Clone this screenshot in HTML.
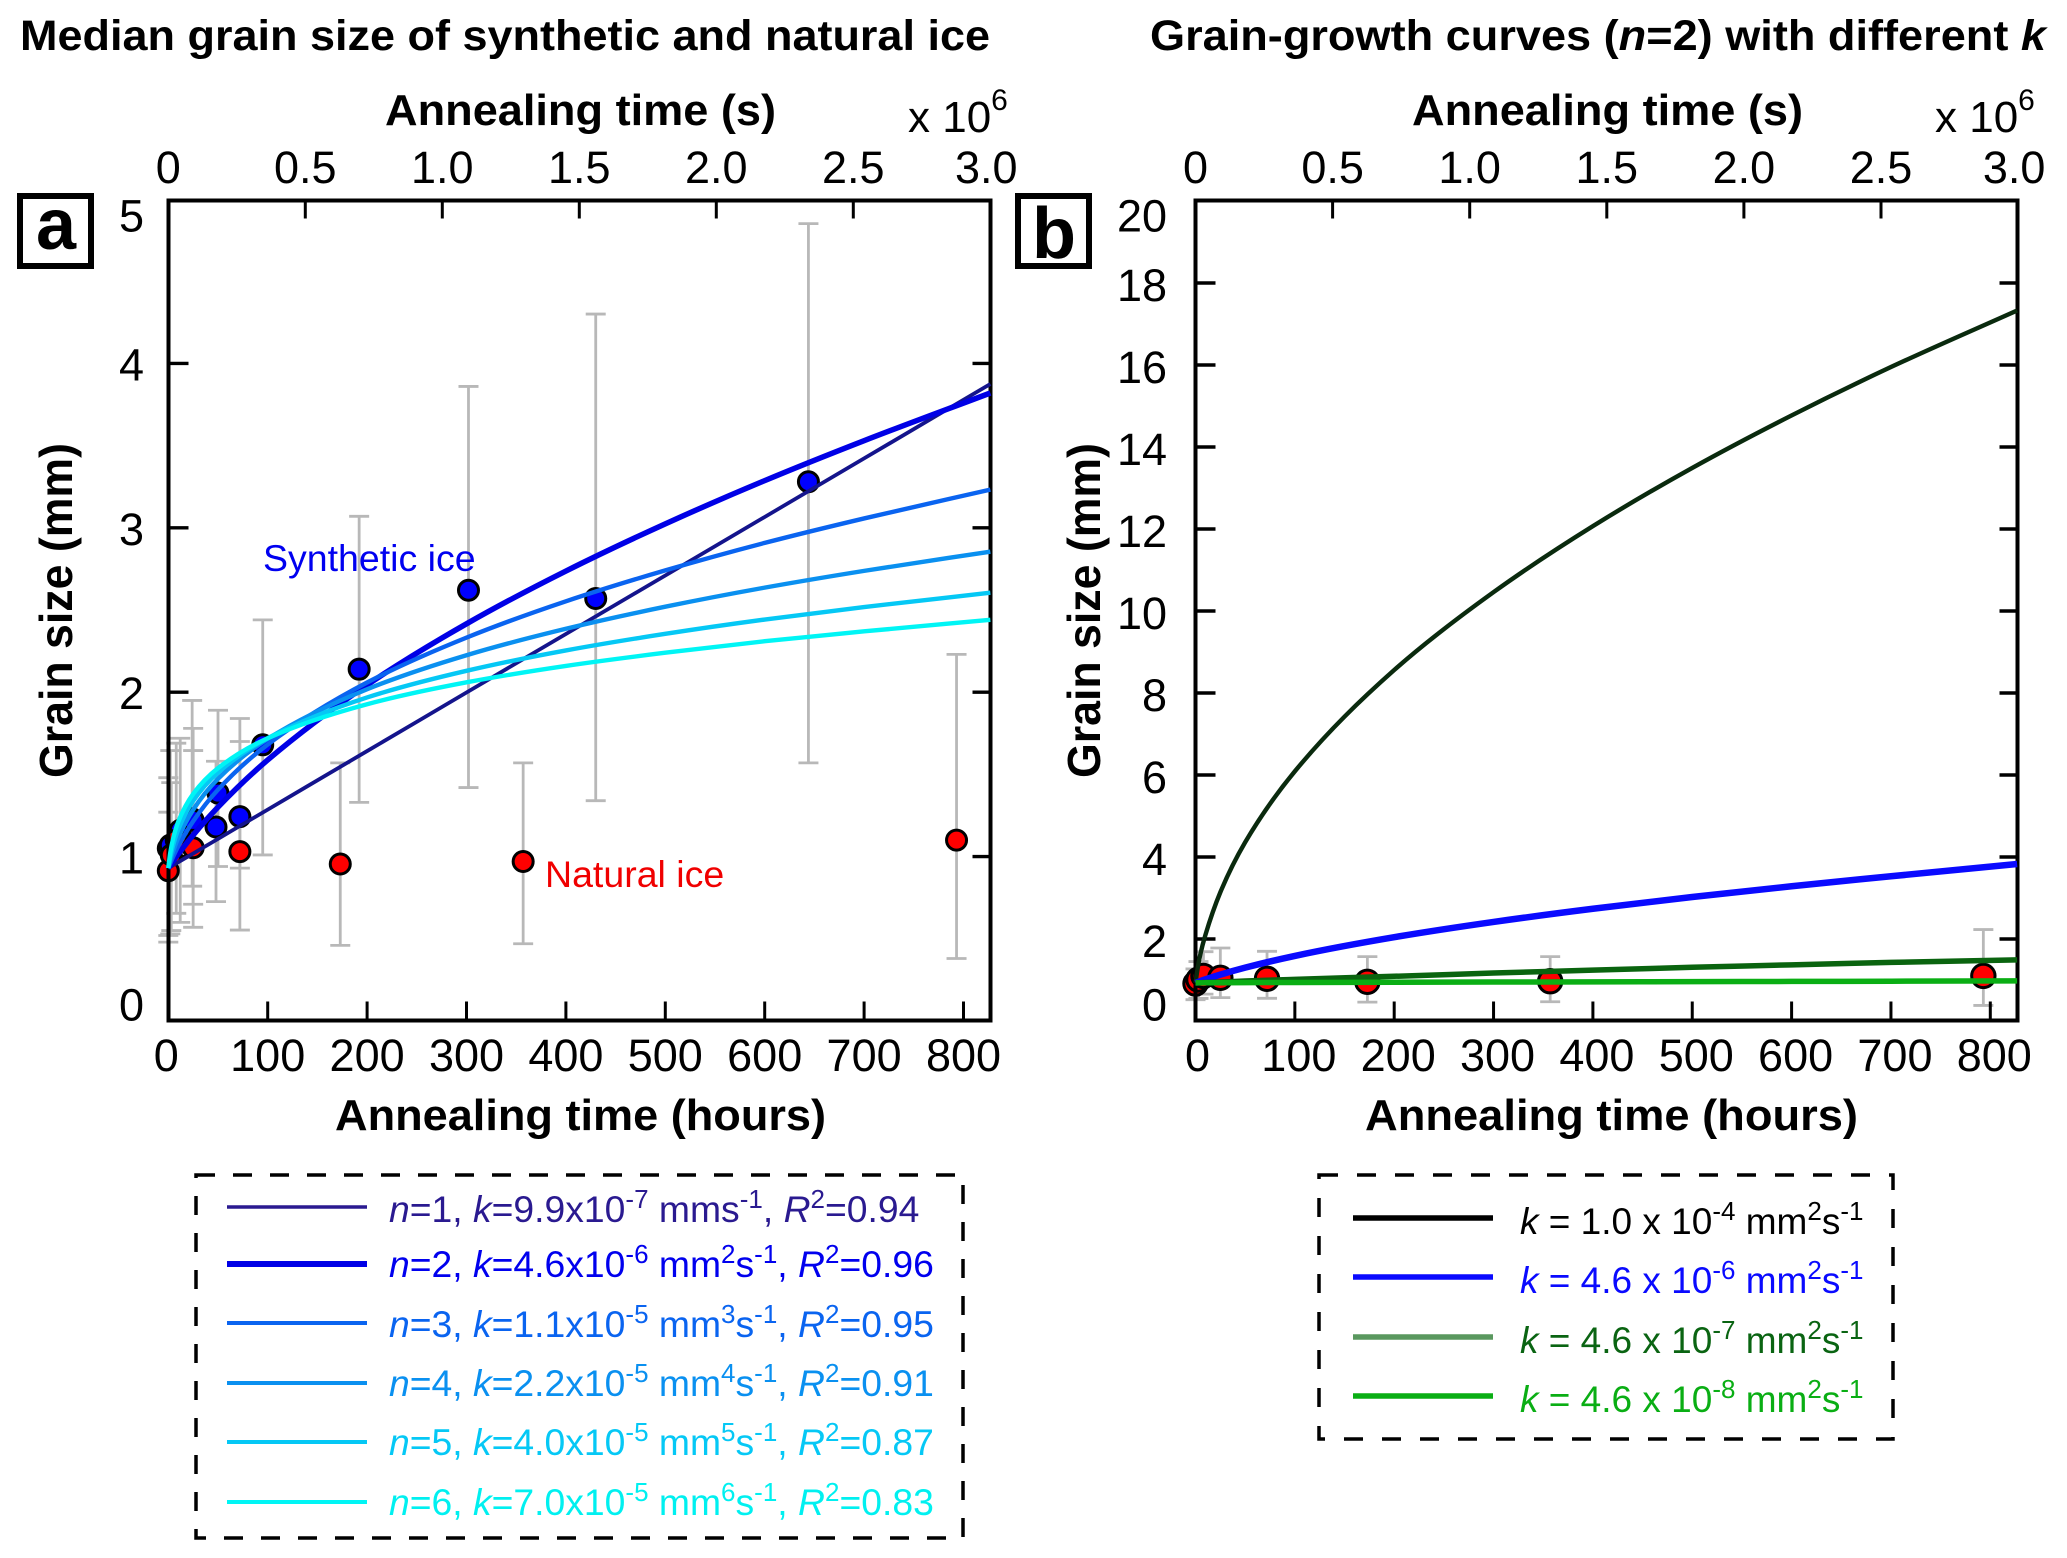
<!DOCTYPE html>
<html lang="en">
<head>
<meta charset="utf-8">
<title>Median grain size of synthetic and natural ice</title>
<style>
html,body{margin:0;padding:0;background:#fff;}
svg{display:block;}
text{font-family:"Liberation Sans",sans-serif;}
.tick{font-size:45px;fill:#000;}
.bold{font-weight:bold;fill:#000;}
.leg{font-size:37.3px;}
.legb{font-size:37px;}
.it{font-style:italic;}
.sup{font-size:26px;}
</style>
</head>
<body>
<svg id="figure" width="2067" height="1558" viewBox="0 0 2067 1558" xmlns="http://www.w3.org/2000/svg">
  <rect x="0" y="0" width="2067" height="1558" fill="#fff"/>

  <text class="bold" x="20" y="50" font-size="43" textLength="970" lengthAdjust="spacingAndGlyphs">Median grain size of synthetic and natural ice</text>
  <text class="bold" x="1150" y="50" font-size="43" textLength="896" lengthAdjust="spacingAndGlyphs">Grain-growth curves (<tspan class="it">n</tspan>=2) with different <tspan class="it">k</tspan></text>

  <text class="bold" x="385" y="125" font-size="44" textLength="391" lengthAdjust="spacingAndGlyphs">Annealing time (s)</text>
  <text class="bold" x="1412" y="125" font-size="44" textLength="391" lengthAdjust="spacingAndGlyphs">Annealing time (s)</text>

  <text x="908" y="132" font-size="44">x 10<tspan dy="-22" font-size="30">6</tspan></text>
  <text x="1935" y="132" font-size="44">x 10<tspan dy="-22" font-size="30">6</tspan></text>

  <text class="bold" x="335" y="1130" font-size="44" textLength="491" lengthAdjust="spacingAndGlyphs">Annealing time (hours)</text>
  <text class="bold" x="1365" y="1130" font-size="44" textLength="493" lengthAdjust="spacingAndGlyphs">Annealing time (hours)</text>

  <text class="bold" transform="translate(72,778) rotate(-90)" font-size="46" textLength="335" lengthAdjust="spacingAndGlyphs">Grain size (mm)</text>
  <text class="bold" transform="translate(1100,778) rotate(-90)" font-size="46" textLength="335" lengthAdjust="spacingAndGlyphs">Grain size (mm)</text>

  <g id="panelA"></g>
  <g id="panelB"></g>

  <text x="263" y="571" font-size="37.5" fill="#0000f0">Synthetic ice</text>
  <text x="545" y="887" font-size="37.5" fill="#f00000">Natural ice</text>

  <g>
    <rect x="20" y="196" width="71" height="70" fill="#fff" stroke="#000" stroke-width="6"/>
    <text x="56" y="249" font-size="72" font-weight="bold" text-anchor="middle">a</text>
  </g>
  <g>
    <rect x="1018" y="196" width="71" height="70" fill="#fff" stroke="#000" stroke-width="6"/>
    <text x="1054" y="258" font-size="72" font-weight="bold" text-anchor="middle">b</text>
  </g>

  <g>
    <rect x="196" y="1175" width="767" height="363" fill="none" stroke="#000" stroke-width="3.5" stroke-dasharray="19 18"/>
    <g>
      <line x1="227" x2="367" y1="1207" y2="1207" stroke="#2a1a90" stroke-width="3.5"/>
      <text class="leg" x="389" y="1222" fill="#2a1a90"><tspan class="it">n</tspan>=1, <tspan class="it">k</tspan>=9.9x10<tspan dy="-14" class="sup">-7</tspan><tspan dy="14"> mms</tspan><tspan dy="-14" class="sup">-1</tspan><tspan dy="14">, </tspan><tspan class="it">R</tspan><tspan dy="-14" class="sup">2</tspan><tspan dy="14">=0.94</tspan></text>
    </g>
    <g>
      <line x1="227" x2="367" y1="1264" y2="1264" stroke="#0000e6" stroke-width="6"/>
      <text class="leg" x="389" y="1277" fill="#0000ee"><tspan class="it">n</tspan>=2, <tspan class="it">k</tspan>=4.6x10<tspan dy="-14" class="sup">-6</tspan><tspan dy="14"> mm</tspan><tspan dy="-14" class="sup">2</tspan><tspan dy="14">s</tspan><tspan dy="-14" class="sup">-1</tspan><tspan dy="14">, </tspan><tspan class="it">R</tspan><tspan dy="-14" class="sup">2</tspan><tspan dy="14">=0.96</tspan></text>
    </g>
    <g>
      <line x1="227" x2="367" y1="1323" y2="1323" stroke="#0a64f0" stroke-width="4"/>
      <text class="leg" x="389" y="1337" fill="#0a64f0"><tspan class="it">n</tspan>=3, <tspan class="it">k</tspan>=1.1x10<tspan dy="-14" class="sup">-5</tspan><tspan dy="14"> mm</tspan><tspan dy="-14" class="sup">3</tspan><tspan dy="14">s</tspan><tspan dy="-14" class="sup">-1</tspan><tspan dy="14">, </tspan><tspan class="it">R</tspan><tspan dy="-14" class="sup">2</tspan><tspan dy="14">=0.95</tspan></text>
    </g>
    <g>
      <line x1="227" x2="367" y1="1383" y2="1383" stroke="#0a90f0" stroke-width="4"/>
      <text class="leg" x="389" y="1396" fill="#0a90f0"><tspan class="it">n</tspan>=4, <tspan class="it">k</tspan>=2.2x10<tspan dy="-14" class="sup">-5</tspan><tspan dy="14"> mm</tspan><tspan dy="-14" class="sup">4</tspan><tspan dy="14">s</tspan><tspan dy="-14" class="sup">-1</tspan><tspan dy="14">, </tspan><tspan class="it">R</tspan><tspan dy="-14" class="sup">2</tspan><tspan dy="14">=0.91</tspan></text>
    </g>
    <g>
      <line x1="227" x2="367" y1="1442" y2="1442" stroke="#05c8f5" stroke-width="4"/>
      <text class="leg" x="389" y="1455" fill="#05c8f5"><tspan class="it">n</tspan>=5, <tspan class="it">k</tspan>=4.0x10<tspan dy="-14" class="sup">-5</tspan><tspan dy="14"> mm</tspan><tspan dy="-14" class="sup">5</tspan><tspan dy="14">s</tspan><tspan dy="-14" class="sup">-1</tspan><tspan dy="14">, </tspan><tspan class="it">R</tspan><tspan dy="-14" class="sup">2</tspan><tspan dy="14">=0.87</tspan></text>
    </g>
    <g>
      <line x1="227" x2="367" y1="1502" y2="1502" stroke="#00f5f5" stroke-width="4"/>
      <text class="leg" x="389" y="1515" fill="#00f0f0"><tspan class="it">n</tspan>=6, <tspan class="it">k</tspan>=7.0x10<tspan dy="-14" class="sup">-5</tspan><tspan dy="14"> mm</tspan><tspan dy="-14" class="sup">6</tspan><tspan dy="14">s</tspan><tspan dy="-14" class="sup">-1</tspan><tspan dy="14">, </tspan><tspan class="it">R</tspan><tspan dy="-14" class="sup">2</tspan><tspan dy="14">=0.83</tspan></text>
    </g>
  </g>

  <g>
    <rect x="1319" y="1175" width="574" height="264" fill="none" stroke="#000" stroke-width="3.5" stroke-dasharray="19 19"/>
    <g>
      <line x1="1353" x2="1493" y1="1218" y2="1218" stroke="#000" stroke-width="5.5"/>
      <text class="legb" x="1520" y="1234" fill="#000"><tspan class="it">k</tspan> = 1.0 x 10<tspan dy="-14" class="sup">-4</tspan><tspan dy="14"> mm</tspan><tspan dy="-14" class="sup">2</tspan><tspan dy="14">s</tspan><tspan dy="-14" class="sup">-1</tspan></text>
    </g>
    <g>
      <line x1="1353" x2="1493" y1="1277" y2="1277" stroke="#0a0aff" stroke-width="5.5"/>
      <text class="legb" x="1520" y="1293" fill="#0a0aff"><tspan class="it">k</tspan> = 4.6 x 10<tspan dy="-14" class="sup">-6</tspan><tspan dy="14"> mm</tspan><tspan dy="-14" class="sup">2</tspan><tspan dy="14">s</tspan><tspan dy="-14" class="sup">-1</tspan></text>
    </g>
    <g>
      <line x1="1353" x2="1493" y1="1337" y2="1337" stroke="#5a985f" stroke-width="5.5"/>
      <text class="legb" x="1520" y="1353" fill="#0a6412"><tspan class="it">k</tspan> = 4.6 x 10<tspan dy="-14" class="sup">-7</tspan><tspan dy="14"> mm</tspan><tspan dy="-14" class="sup">2</tspan><tspan dy="14">s</tspan><tspan dy="-14" class="sup">-1</tspan></text>
    </g>
    <g>
      <line x1="1353" x2="1493" y1="1396" y2="1396" stroke="#0aae14" stroke-width="5.5"/>
      <text class="legb" x="1520" y="1412" fill="#0aae14"><tspan class="it">k</tspan> = 4.6 x 10<tspan dy="-14" class="sup">-8</tspan><tspan dy="14"> mm</tspan><tspan dy="-14" class="sup">2</tspan><tspan dy="14">s</tspan><tspan dy="-14" class="sup">-1</tspan></text>
    </g>
  </g>
</svg>

<script>
// ---- shared axis labels ----
const hourTicks = [0, 100, 200, 300, 400, 500, 600, 700, 800];
const secondTicks = [0, 0.5, 1.0, 1.5, 2.0, 2.5, 3.0];
const secondLabels = ['0', '0.5', '1.0', '1.5', '2.0', '2.5', '3.0'];
const sizeTicksA = [0, 1, 2, 3, 4, 5];
const sizeTicksB = [0, 2, 4, 6, 8, 10, 12, 14, 16, 18, 20];

// ---- fitted curve sample hours ----
const curveHours = [0, 2, 5, 10, 25, 50, 100, 200, 300, 400, 500, 600, 700, 827];

// ---- panel a curves (grain size, mm) ----
const curveN1 = [0.93, 0.937, 0.948, 0.966, 1.019, 1.108, 1.286, 1.642, 1.998, 2.354, 2.71, 3.066, 3.422, 3.875];
const curveN2 = [0.93, 0.948, 0.974, 1.015, 1.131, 1.301, 1.588, 2.044, 2.416, 2.737, 3.024, 3.287, 3.53, 3.82];
const curveN3 = [0.93, 0.959, 1.001, 1.063, 1.215, 1.407, 1.682, 2.059, 2.332, 2.553, 2.741, 2.908, 3.057, 3.232];
const curveN4 = [0.93, 0.976, 1.034, 1.114, 1.285, 1.473, 1.716, 2.018, 2.225, 2.386, 2.52, 2.636, 2.738, 2.855];
const curveN5 = [0.93, 0.997, 1.072, 1.164, 1.339, 1.511, 1.72, 1.968, 2.13, 2.254, 2.355, 2.442, 2.518, 2.605];
const curveN6 = [0.93, 1.024, 1.113, 1.212, 1.381, 1.538, 1.72, 1.927, 2.06, 2.16, 2.24, 2.31, 2.37, 2.44];

// ---- panel b curves (grain size, mm) ----
const curveK4 = [0.93, 1.26, 1.64, 2.10, 3.14, 4.36, 6.09, 8.56, 10.46, 12.07, 13.49, 14.77, 15.95, 17.33];
const curveK6 = [0.93, 0.948, 0.974, 1.015, 1.131, 1.301, 1.588, 2.044, 2.416, 2.737, 3.024, 3.287, 3.53, 3.83];
const curveK7 = [0.93, 0.932, 0.934, 0.94, 0.95, 0.975, 1.016, 1.09, 1.17, 1.24, 1.31, 1.37, 1.43, 1.49];
const curveK8 = [0.93, 0.93, 0.93, 0.932, 0.933, 0.935, 0.94, 0.945, 0.95, 0.955, 0.96, 0.965, 0.97, 0.98];

// ---- synthetic ice measurements ----
const synthHours = [0, 2, 12, 24, 25, 48, 50, 72, 95, 192, 302, 430, 644];
const synthSize = [1.05, 1.07, 1.16, 1.23, 1.22, 1.18, 1.386, 1.243, 1.68, 2.14, 2.62, 2.57, 3.28];
const synthLow = [0.48, 0.53, 0.60, 0.82, 0.71, 0.726, 0.94, 0.93, 1.01, 1.33, 1.42, 1.34, 1.57];
const synthHigh = [1.48, 1.645, 1.72, 1.95, 1.645, 1.58, 1.89, 1.84, 2.44, 3.07, 3.86, 4.30, 4.85];

// ---- natural ice measurements ----
const naturalHours = [0, 3, 8, 25, 72, 173, 357, 793];
const naturalSize = [0.914, 1.01, 1.10, 1.054, 1.03, 0.955, 0.97, 1.10];
const naturalLow = [0.52, 0.55, 0.655, 0.57, 0.553, 0.46, 0.47, 0.38];
const naturalHigh = [1.27, 1.45, 1.69, 1.78, 1.70, 1.57, 1.57, 2.23];

const NS = 'http://www.w3.org/2000/svg';

function mk(parent, tag, attrs, txt) {
  const el = document.createElementNS(NS, tag);
  for (const k in attrs) el.setAttribute(k, attrs[k]);
  if (txt !== undefined) el.textContent = txt;
  parent.appendChild(el);
  return el;
}

function smoothPath(px, py) {
  const n = px.length, d = [], m = new Array(n);
  for (let i = 0; i < n - 1; i++) d.push((py[i + 1] - py[i]) / (px[i + 1] - px[i]));
  m[0] = d[0];
  m[n - 1] = d[n - 2];
  for (let i = 1; i < n - 1; i++) {
    if (d[i - 1] * d[i] <= 0) { m[i] = 0; continue; }
    const h0 = px[i] - px[i - 1], h1 = px[i + 1] - px[i];
    m[i] = (h0 + h1) * 3 / ((2 * h1 + h0) / d[i - 1] + (h1 + 2 * h0) / d[i]);
  }
  let s = 'M' + px[0].toFixed(2) + ' ' + py[0].toFixed(2);
  for (let i = 0; i < n - 1; i++) {
    const h = (px[i + 1] - px[i]) / 3;
    s += ' C' + (px[i] + h).toFixed(2) + ' ' + (py[i] + m[i] * h).toFixed(2) + ' ' +
      (px[i + 1] - h).toFixed(2) + ' ' + (py[i + 1] - m[i + 1] * h).toFixed(2) + ' ' +
      px[i + 1].toFixed(2) + ' ' + py[i + 1].toFixed(2);
  }
  return s;
}

function drawBars(g, X, Y, hours, low, high, capHalf, prefix) {
  hours.forEach(function (h, i) {
    const bar = mk(g, 'path', {
      d: 'M' + (X(h) - capHalf) + ' ' + Y(high[i]) + 'h' + (2 * capHalf) +
         'M' + (X(h) - capHalf) + ' ' + Y(low[i]) + 'h' + (2 * capHalf) +
         'M' + X(h) + ' ' + Y(high[i]) + 'V' + Y(low[i]),
      stroke: '#b8b8b8', 'stroke-width': 2.8, fill: 'none'
    });
    
    
  });
}

function drawPoints(g, X, Y, hours, size, r, fill, prefix) {
  hours.forEach(function (h, i) {
    const pt = mk(g, 'circle', { cx: X(h), cy: Y(size[i]), r: r, fill: fill, stroke: '#000', 'stroke-width': 3 });
    
    
  });
}

function drawCurve(g, X, Y, values, color, width, name) {
  const c = mk(g, 'path', {
    d: smoothPath(curveHours.map(X), values.map(Y)),
    fill: 'none', stroke: color, 'stroke-width': width, 'stroke-linejoin': 'round'
  });
  
  
}

function drawAxes(g, cfg) {
  const frame = mk(g, 'rect', { x: cfg.left, y: cfg.top, width: cfg.right - cfg.left, height: cfg.bottom - cfg.top, fill: 'none', stroke: '#000', 'stroke-width': 4 });
  
  

  hourTicks.forEach(function (t) {
    if (t > 0) {
      const tk = mk(g, 'line', { x1: cfg.X(t), x2: cfg.X(t), y1: cfg.bottom, y2: cfg.bottom - 19, stroke: '#000', 'stroke-width': 3 });
      
      
    }
    const lb = mk(g, 'text', { class: 'tick', x: cfg.X(t) + cfg.hourNudge(t), y: 1071, 'text-anchor': 'middle' }, String(t));
    
    
  });

  secondTicks.forEach(function (s, i) {
    const x = cfg.S(s);
    if (i > 0 && i < secondTicks.length - 1) {
      const tk = mk(g, 'line', { x1: x, x2: x, y1: cfg.top, y2: cfg.top + 18, stroke: '#000', 'stroke-width': 3 });
      
      
    }
    const off = i === secondTicks.length - 1 ? -4 : 0;
    const lb = mk(g, 'text', { class: 'tick', x: x + off, y: 183, 'text-anchor': 'middle' }, secondLabels[i]);
    
    
  });

  cfg.sizeTicks.forEach(function (v, i) {
    const y = cfg.Y(v);
    if (i > 0 && i < cfg.sizeTicks.length - 1) {
      const tl = mk(g, 'line', { x1: cfg.left, x2: cfg.left + 20, y1: y, y2: y, stroke: '#000', 'stroke-width': 3.4 });
      
      
      const tr = mk(g, 'line', { x1: cfg.right, x2: cfg.right - 18, y1: y, y2: y, stroke: '#000', 'stroke-width': 3.4 });
      
      
    }
    const cy = Math.min(Math.max(y + cfg.labelDrop, cfg.top + 15), cfg.bottom - 16);
    const lb = mk(g, 'text', { class: 'tick', x: cfg.labelRight, y: cy + 16, 'text-anchor': 'end' }, String(v));
    
    
  });
}

// ---- panel a ----
const panelA = document.getElementById('panelA');
const xA = function (h) { return 168.3 + 0.994 * h; };
const yA = function (v) { return 1021 - 164.4 * v; };
const sA = function (s) { return 168.3 + 274 * s; };

drawBars(panelA, xA, yA, synthHours, synthLow, synthHigh, 10, 'synthetic-ice');
drawBars(panelA, xA, yA, naturalHours, naturalLow, naturalHigh, 10, 'natural-ice');
drawPoints(panelA, xA, yA, synthHours, synthSize, 10, '#0000ff', 'synthetic-ice');
drawPoints(panelA, xA, yA, naturalHours, naturalSize, 10, '#ff0000', 'natural-ice');
drawAxes(panelA, {
  left: 168.5, right: 990.5, top: 200.5, bottom: 1020.5,
  X: xA, Y: yA, S: sA, sizeTicks: sizeTicksA, labelRight: 144, labelDrop: 1,
  hourNudge: function (t) { return t === 0 ? -2 : 0; }
});
drawCurve(panelA, xA, yA, curveN1, '#14148c', 3.8, 'curve-n1');
drawCurve(panelA, xA, yA, curveN2, '#0000e6', 5.5, 'curve-n2');
drawCurve(panelA, xA, yA, curveN3, '#0a64f0', 4.4, 'curve-n3');
drawCurve(panelA, xA, yA, curveN4, '#0a90f0', 4.4, 'curve-n4');
drawCurve(panelA, xA, yA, curveN5, '#05c8f5', 4.4, 'curve-n5');
drawCurve(panelA, xA, yA, curveN6, '#00f5f5', 4.4, 'curve-n6');

// ---- panel b ----
const panelB = document.getElementById('panelB');
const xB = function (h) { return 1195.5 + 0.9935 * h; };
const yB = function (v) { return 1021 - 41 * v; };
const sB = function (s) { return 1195.5 + 274.2 * s; };

drawBars(panelB, xB, yB, naturalHours, naturalLow, naturalHigh, 10, 'natural-ice');
drawPoints(panelB, xB, yB, naturalHours, naturalSize, 11.7, '#ff0000', 'natural-ice');
drawAxes(panelB, {
  left: 1195.5, right: 2017.5, top: 200.5, bottom: 1020.5,
  X: xB, Y: yB, S: sB, sizeTicks: sizeTicksB, labelRight: 1167, labelDrop: 2,
  hourNudge: function (t) { return t === 0 ? 2 : 4; }
});
drawCurve(panelB, xB, yB, curveK4, '#0a2a0e', 4.4, 'curve-k-1e-4');
drawCurve(panelB, xB, yB, curveK6, '#0a0aff', 6.5, 'curve-k-4.6e-6');
drawCurve(panelB, xB, yB, curveK7, '#0a640f', 5.5, 'curve-k-4.6e-7');
drawCurve(panelB, xB, yB, curveK8, '#0aae14', 5.5, 'curve-k-4.6e-8');
</script>
</body>
</html>
